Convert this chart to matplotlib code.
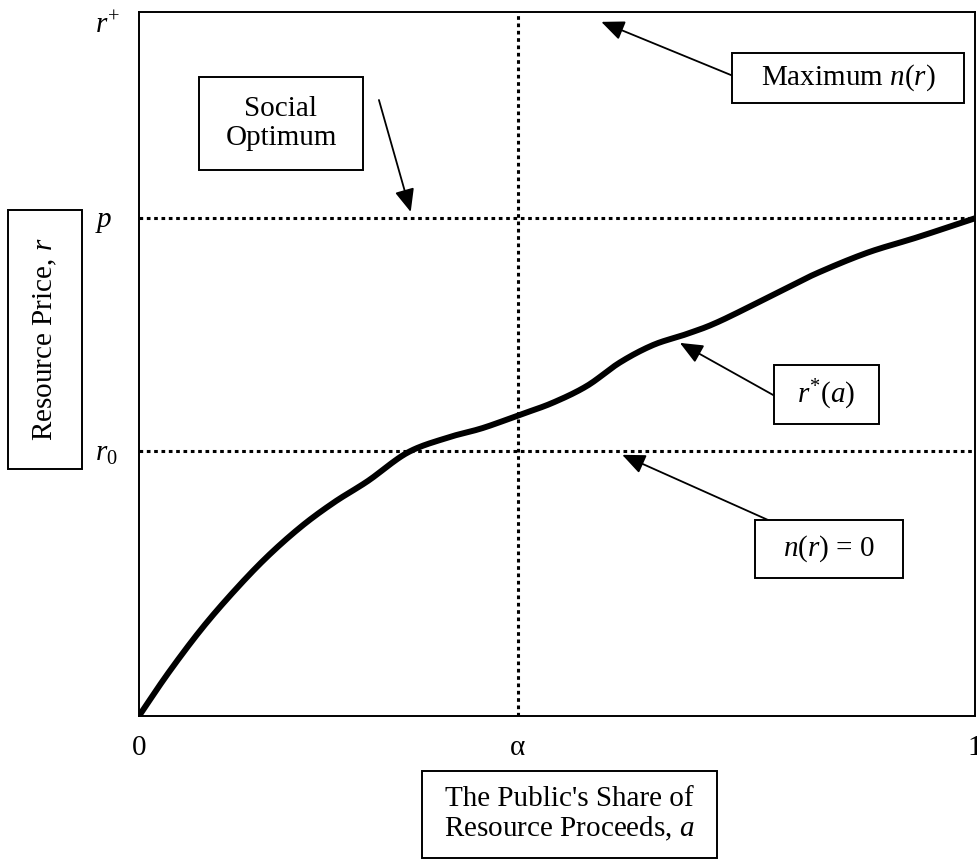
import numpy as np
import matplotlib
matplotlib.use('Agg')
import matplotlib.pyplot as plt
from matplotlib.patches import Rectangle

plt.rcParams['font.family'] = ['Liberation Serif', 'DejaVu Serif']
plt.rcParams['mathtext.fontset'] = 'custom'
plt.rcParams['mathtext.rm'] = 'Liberation Serif'
plt.rcParams['mathtext.it'] = 'Liberation Serif:italic'

# r*(a) curve (a on [0,1], r scaled so r+ = 1)
a_vals = [0.0, 0.035, 0.075, 0.115, 0.154, 0.195, 0.234, 0.274, 0.321, 0.368,
          0.411, 0.456, 0.495, 0.536, 0.575, 0.615, 0.656, 0.695, 0.770, 0.811,
          0.871, 0.931, 1.0]
r_vals = [0.0, 0.061, 0.124, 0.179, 0.227, 0.270, 0.304, 0.334, 0.374, 0.395,
          0.409, 0.428, 0.445, 0.469, 0.502, 0.527, 0.543, 0.561, 0.605, 0.629,
          0.658, 0.680, 0.707]

alpha = 0.453
p = 0.707
r0 = 0.376
r_plus = 1.0

x_ticks = [0, alpha, 1]
x_labels = ['0', 'α', '1']
y_ticks = [r0, p, r_plus]
y_labels = ['$r_0$', '$p$', '$r^{+}$']

W, H = 977, 863
fs = 21


def smooth(xs, ys, n=20):
    # catmull-rom pass through the read points, just to draw a smooth stroke
    pts = np.column_stack([xs, ys])
    pts = np.vstack([2 * pts[0] - pts[1], pts, 2 * pts[-1] - pts[-2]])
    out = []
    t = np.linspace(0, 1, n, endpoint=False)[:, None]
    for i in range(1, len(pts) - 2):
        p0, p1, p2, p3 = pts[i - 1], pts[i], pts[i + 1], pts[i + 2]
        seg = 0.5 * (2 * p1 + (-p0 + p2) * t + (2 * p0 - 5 * p1 + 4 * p2 - p3) * t ** 2
                     + (-p0 + 3 * p1 - 3 * p2 + p3) * t ** 3)
        out.append(seg)
    out.append(pts[-2][None, :])
    out = np.vstack(out)
    return out[:, 0], out[:, 1]


fig = plt.figure(figsize=(W / 100, H / 100), dpi=100)
ax = fig.add_axes([139 / W, 1 - 716 / H, 836 / W, 704 / H])

sx, sy = smooth(a_vals, r_vals)
ax.plot(sx, sy, color='black', lw=4.3, solid_capstyle='butt', zorder=3)

dot = (0, (1.2, 1.2))
ax.plot([0, 1], [p, p], color='black', lw=2.2, linestyle=dot)
ax.plot([0, 1], [r0, r0], color='black', lw=2.2, linestyle=dot)
ax.plot([alpha, alpha], [0, 1], color='black', lw=2.2, linestyle=dot)

ax.set_xlim(0, 1)
ax.set_ylim(0, 1)
for s in ax.spines.values():
    s.set_linewidth(1.4)

ax.set_xticks(x_ticks)
ax.set_xticklabels(x_labels, fontsize=fs)
ax.set_yticks(y_ticks)
ax.set_yticklabels(y_labels, fontsize=fs, ha='left')
ax.tick_params(length=0)
ax.tick_params(axis='x', pad=14)
ax.tick_params(axis='y', pad=32)
ax.get_yticklabels()[2].set_va('top')
for lbl in ax.get_xticklabels():
    lbl.set_clip_on(False)


def label_box(x0, y0, x1, y1, text, rot=0, ls=1.15, size=fs):
    # box given in picture pixels from the top-left corner
    fig.add_artist(Rectangle((x0 / W, 1 - y1 / H), (x1 - x0) / W, (y1 - y0) / H,
                             transform=fig.transFigure, fc='white', ec='black',
                             lw=1.4, zorder=5))
    fig.text((x0 + x1) / 2 / W, 1 - (y0 + y1) / 2 / H, text, fontsize=size,
             ha='center', va='center', rotation=rot, linespacing=ls, zorder=6)


arrow = dict(arrowstyle='-|>,head_length=0.7,head_width=0.3', color='black',
             lw=1.3, shrinkA=0, shrinkB=0, mutation_scale=20)

label_box(199, 77, 363, 170, 'Social\nOptimum')
ax.annotate('', xy=(0.325, 0.716), xytext=(0.287, 0.875), arrowprops=arrow)

label_box(732, 53, 964, 103, 'Maximum $n$($r$)')
ax.annotate('', xy=(0.553, 0.986), xytext=(0.709, 0.910), arrowprops=arrow)

label_box(774, 365, 879, 424, '$r^{*}$($a$)')
ax.annotate('', xy=(0.647, 0.530), xytext=(0.760, 0.455), arrowprops=arrow)

label_box(755, 520, 903, 578, '$n$($r$) = 0')
ax.annotate('', xy=(0.578, 0.371), xytext=(0.757, 0.276), arrowprops=arrow)

label_box(8, 210, 82, 469, 'Resource Price, $r$', rot=90)
label_box(422, 771, 717, 858, "The Public's Share of\nResource Proceeds, $a$",
          ls=1.13)

fig.savefig('out.png', dpi=100)
